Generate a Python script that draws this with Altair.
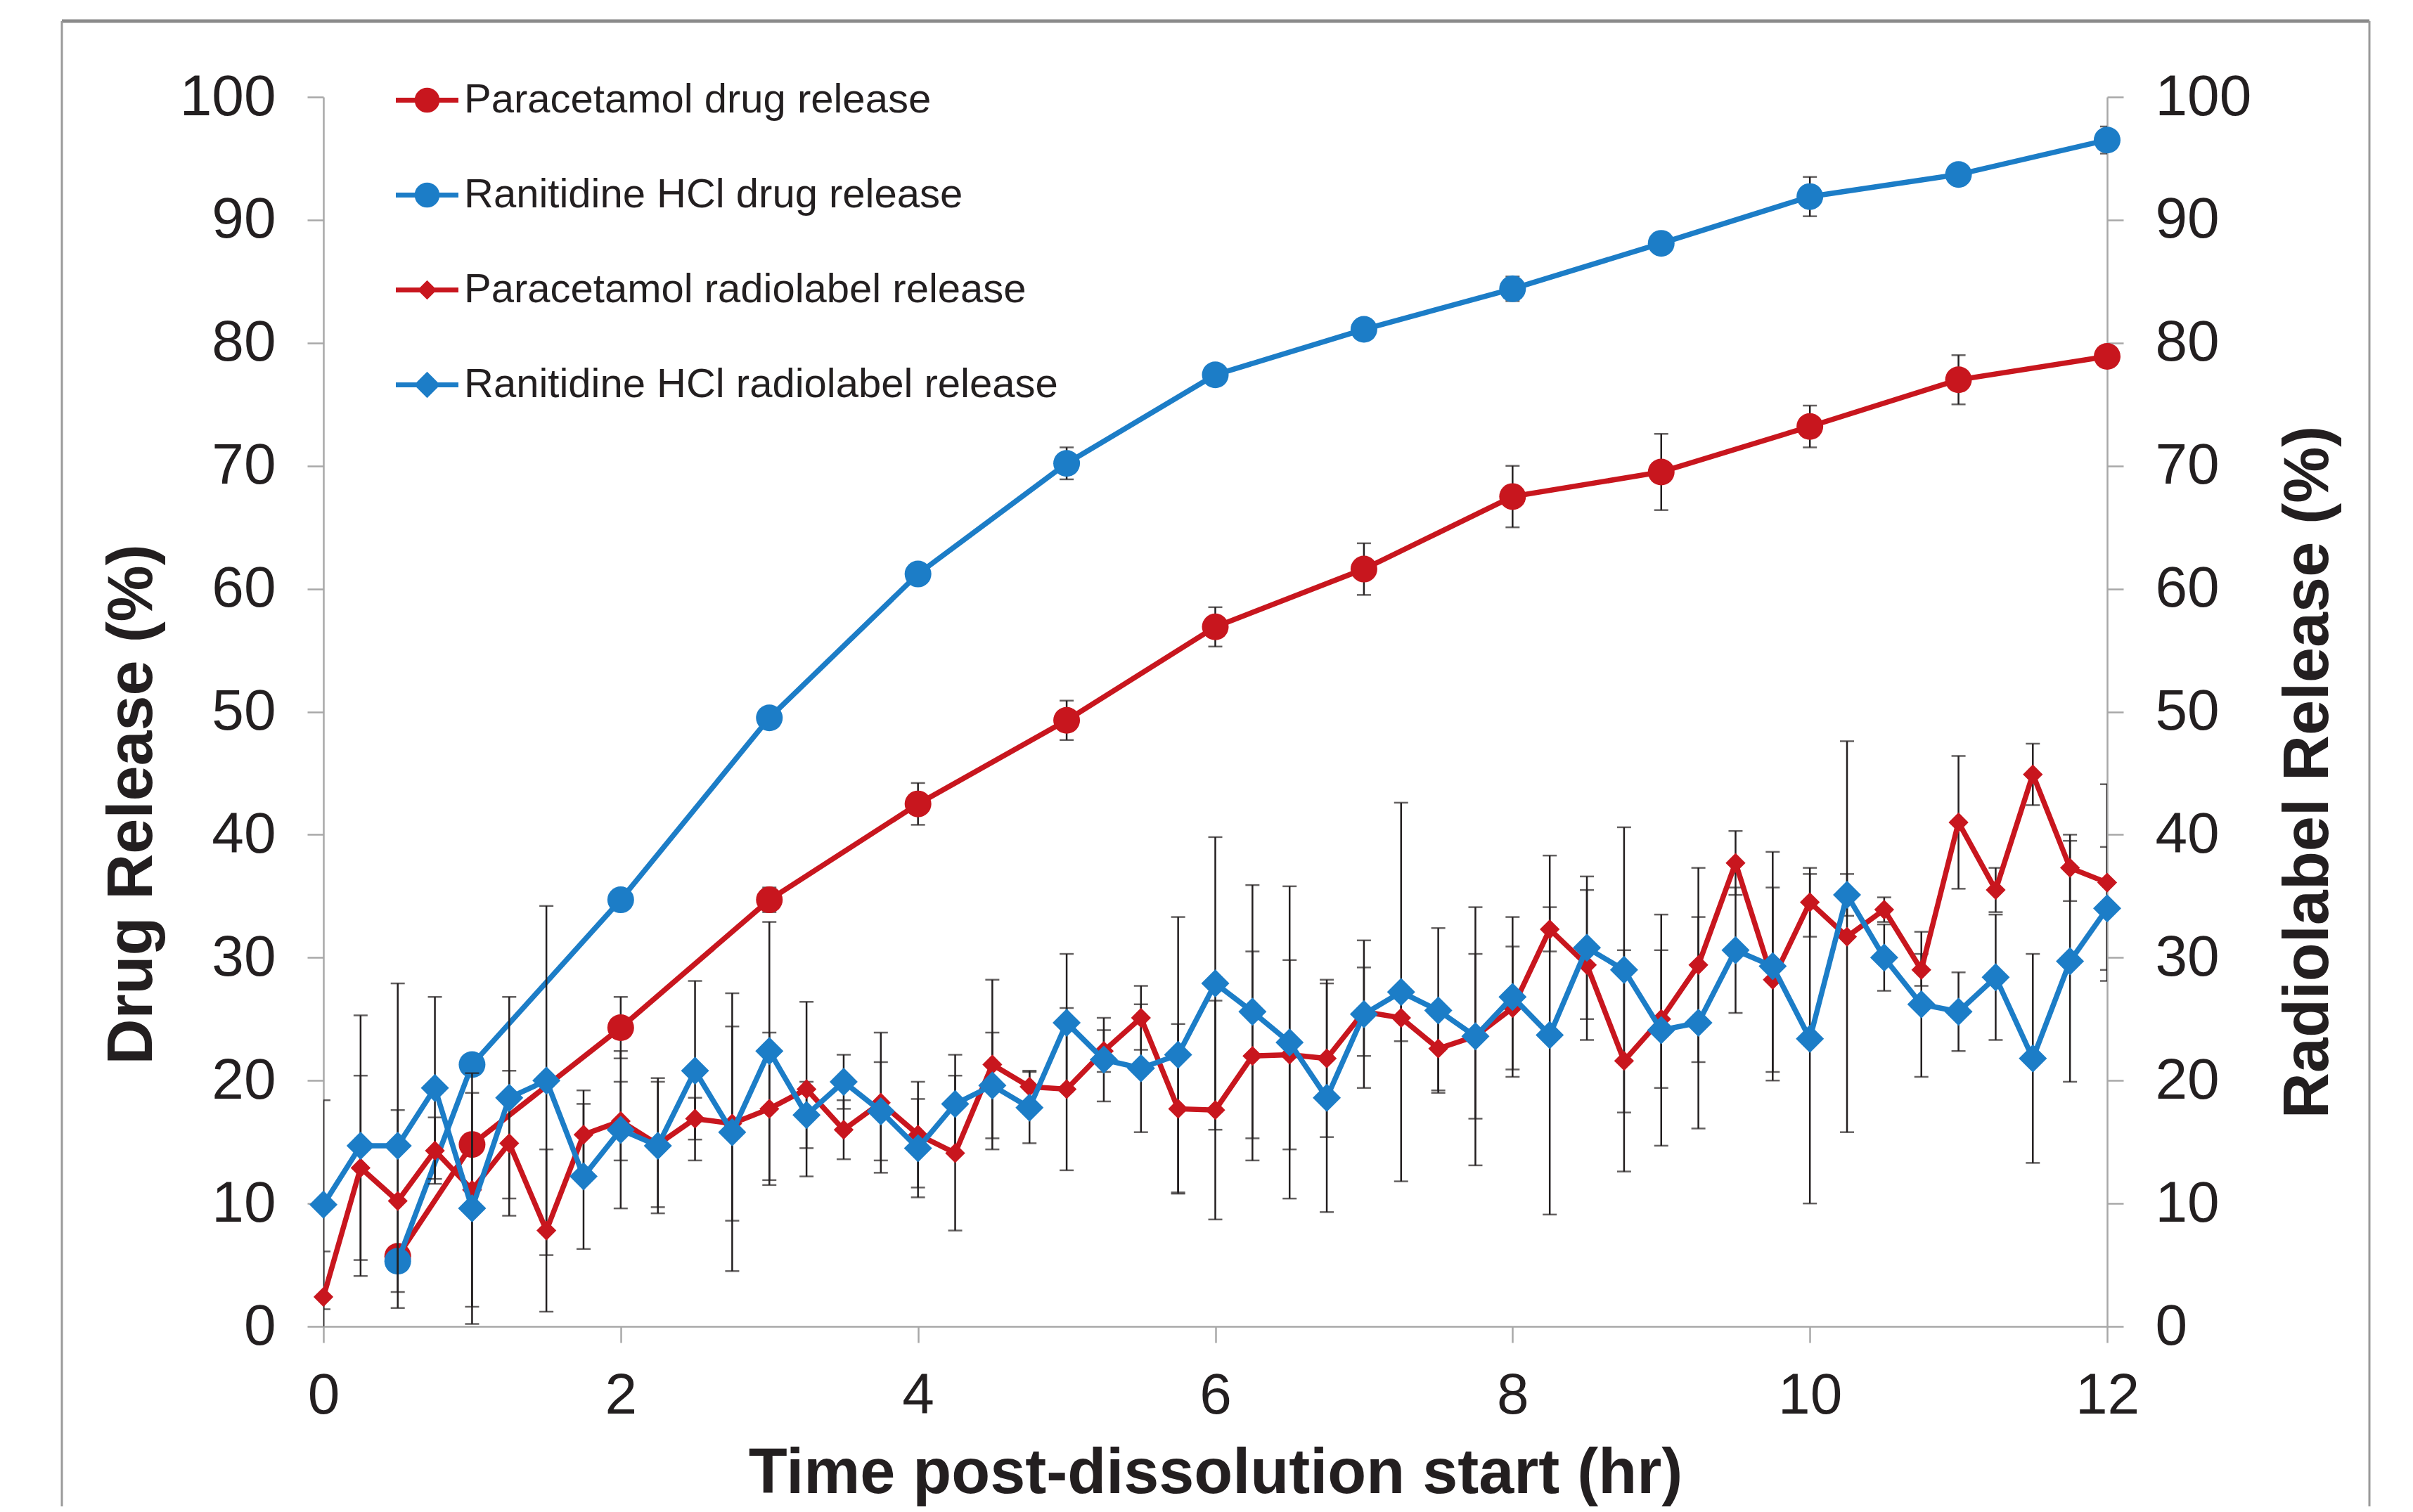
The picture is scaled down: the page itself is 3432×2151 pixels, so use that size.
import altair as alt
import pandas as pd

# ---------------- data ----------------
x_ticks = [0, 2, 4, 6, 8, 10, 12]
y_ticks = [0, 10, 20, 30, 40, 50, 60, 70, 80, 90, 100]

series_names = [
    "Paracetamol drug release",
    "Ranitidine HCl drug release",
    "Paracetamol radiolabel release",
    "Ranitidine HCl radiolabel release",
]

time_drug = [0.5, 1, 2, 3, 4, 5, 6, 7, 8, 9, 10, 11, 12]
para_drug = [5.7, 14.8, 24.3, 34.7, 42.5, 49.3, 56.9, 61.6, 67.5, 69.5, 73.2, 77.0, 78.9]
para_drug_sd = [0, 0, 2.5, 1.0, 1.7, 1.6, 1.6, 2.1, 2.5, 3.1, 1.7, 2.0, 0]
ran_drug = [5.3, 21.3, 34.7, 49.5, 61.2, 70.2, 77.4, 81.1, 84.4, 88.1, 91.9, 93.7, 96.5]
ran_drug_sd = [0, 0, 0, 0, 0, 1.3, 0, 0, 1.0, 0, 1.6, 0, 1.1]

time_radio = [0, 0.25, 0.5, 0.75, 1, 1.25, 1.5, 1.75, 2, 2.25, 2.5, 2.75,
              3, 3.25, 3.5, 3.75, 4, 4.25, 4.5, 4.75, 5, 5.25, 5.5, 5.75,
              6, 6.25, 6.5, 6.75, 7, 7.25, 7.5, 7.75, 8, 8.25, 8.5, 8.75,
              9, 9.25, 9.5, 9.75, 10, 10.25, 10.5, 10.75, 11, 11.25, 11.5, 11.75, 12]
para_radio = [2.4, 12.9, 10.2, 14.3, 11.1, 14.9, 7.8, 15.6, 16.7, 14.8, 16.9, 16.5,
              17.7, 19.3, 16.0, 18.2, 15.6, 14.1, 21.3, 19.5, 19.3, 22.4, 25.1, 17.7,
              17.6, 22.0, 22.1, 21.8, 25.6, 25.1, 22.6, 23.6, 25.9, 32.3, 29.4, 21.6,
              25.0, 29.4, 37.7, 28.2, 34.5, 31.7, 33.9, 29.0, 41.0, 35.5, 44.9, 37.3, 36.1]
para_radio_sd = [3.7, 7.5, 7.4, 2.7, 9.5, 5.9, 6.6, 3.6, 3.2, 5.1, 1.7, 7.9,
                 6.2, 7.1, 2.4, 5.7, 4.3, 6.3, 6.9, 1.3, 6.6, 1.7, 2.6, 6.9,
                 8.9, 8.5, 7.7, 6.4, 3.6, 1.9, 3.4, 6.7, 5.0, 1.8, 6.1, 9.0,
                 5.6, 7.9, 2.6, 7.5, 2.8, 15.9, 1.0, 1.3, 5.4, 1.8, 2.5, 2.7, 8.0]
ran_radio = [9.9, 14.7, 14.7, 19.4, 9.6, 18.6, 20.0, 12.2, 16.0, 14.7, 20.8, 15.8,
             22.4, 17.2, 19.9, 17.5, 14.5, 18.1, 19.6, 17.8, 24.7, 21.7, 21.0, 22.1,
             27.9, 25.6, 23.1, 18.6, 25.4, 27.2, 25.7, 23.6, 26.8, 23.7, 30.8, 29.0,
             24.1, 24.7, 30.6, 29.3, 23.4, 35.1, 30.0, 26.2, 25.6, 28.4, 21.8, 29.7, 34.0]
ran_radio_sd = [8.5, 10.6, 13.2, 7.4, 9.4, 8.2, 14.2, 5.9, 6.4, 5.5, 7.3, 11.3,
                10.5, 2.7, 2.2, 4.0, 4.0, 4.0, 4.3, 2.9, 5.6, 3.4, 5.2, 11.2,
                11.9, 10.3, 12.7, 9.3, 6.0, 15.4, 6.7, 10.5, 6.5, 14.6, 5.8, 11.6,
                9.4, 8.6, 5.1, 9.3, 13.4, 1.7, 2.7, 5.9, 3.2, 5.1, 8.5, 9.8, 5.0]

# ---------------- styling ----------------
RED = "#C8161E"
BLUE = "#1C7DC7"
INK = "#231F20"
AXIS_GREY = "#A8A8A8"
FONT = "Liberation Sans"

W, H = 2537, 1749


def frame(name, t, v, sd):
    df = pd.DataFrame({"series": name, "t": t, "v": v, "sd": sd})
    df["lo"] = df["v"] - df["sd"]
    df["hi"] = df["v"] + df["sd"]
    return df


d_pd = frame(series_names[0], time_drug, para_drug, para_drug_sd)
d_rd = frame(series_names[1], time_drug, ran_drug, ran_drug_sd)
d_pr = frame(series_names[2], time_radio, para_radio, para_radio_sd)
d_rr = frame(series_names[3], time_radio, ran_radio, ran_radio_sd)
all_df = pd.concat([d_pd, d_rd, d_pr, d_rr], ignore_index=True)

xscale = alt.Scale(domain=[0, 12], nice=False, zero=False)
yscale_l = alt.Scale(domain=[0, 100], nice=False)
yscale_r = alt.Scale(domain=[0, 100], nice=False)

xaxis = alt.Axis(values=x_ticks, title="Time post-dissolution start (hr)",
                 labelPadding=35, titlePadding=26, labelFlush=False)
yaxis_l = alt.Axis(orient="left", values=y_ticks, title="Drug Release (%)",
                   labelPadding=45, titlePadding=26, labelFlush=False,
                   titleY=1006)
yaxis_r = alt.Axis(orient="right", values=y_ticks, title="Radiolabel Release (%)",
                   labelPadding=45, titlePadding=42, labelFlush=False,
                   titleAngle=-90, titleBaseline="top", titleY=960)

X = alt.X("t:Q", scale=xscale, axis=xaxis)


def err(df, yscale, yaxis):
    return alt.Chart(df[df["sd"] > 0]).mark_errorbar(
        ticks=True, size=20, thickness=2.5, color=INK, clip=True
    ).encode(x=X, y=alt.Y("lo:Q", scale=yscale, axis=yaxis), y2="hi:Q")


def line(df, color, yscale, yaxis):
    return alt.Chart(df).mark_line(color=color, strokeWidth=7.5).encode(
        x=X, y=alt.Y("v:Q", scale=yscale, axis=yaxis))


def pts(df, color, shape, size, yscale, yaxis):
    return alt.Chart(df).mark_point(filled=True, shape=shape, size=size,
                                    color=color, opacity=1, strokeWidth=0).encode(
        x=X, y=alt.Y("v:Q", scale=yscale, axis=yaxis))


# decorative frame around the chart area (pixel values, not data)
box = pd.DataFrame({"k": [0]})
frame_top = alt.Chart(box).mark_rule(color="#8A8A8A", strokeWidth=5).encode(
    x=alt.value(-372), x2=alt.value(2910), y=alt.value(-108))
frame_left = alt.Chart(box).mark_rule(color="#9A9A9A", strokeWidth=3).encode(
    x=alt.value(-372), y=alt.value(-108), y2=alt.value(2040))
frame_right = alt.Chart(box).mark_rule(color="#9A9A9A", strokeWidth=3).encode(
    x=alt.value(2910), y=alt.value(-108), y2=alt.value(2040))

left = alt.layer(
    frame_top, frame_left, frame_right,
    err(d_pd, yscale_l, yaxis_l),
    err(d_rd, yscale_l, yaxis_l),
    line(d_pd, RED, yscale_l, yaxis_l),
    pts(d_pd, RED, "circle", 1444, yscale_l, yaxis_l),
    line(d_rd, BLUE, yscale_l, yaxis_l),
    pts(d_rd, BLUE, "circle", 1444, yscale_l, yaxis_l),
)

# legend symbols: line with marker
P_CIRCLE = ("M-1,-0.08L1,-0.08L1,0.08L-1,0.08Z "
            "M0.4,0A0.4,0.4,0,1,1,-0.4,0A0.4,0.4,0,1,1,0.4,0Z")
P_DIA_S = "M-1,-0.08L1,-0.08L1,0.08L-1,0.08Z M-0.31,0L0,-0.31L0.31,0L0,0.31Z"
P_DIA_L = "M-1,-0.08L1,-0.08L1,0.08L-1,0.08Z M-0.42,0L0,-0.42L0.42,0L0,0.42Z"

leg = alt.Legend(orient="none", legendX=103, legendY=-40, title=None,
                 direction="vertical", symbolSize=7921, symbolStrokeWidth=0,
                 symbolOpacity=1, labelFont=FONT, labelFontSize=58,
                 labelColor=INK, labelOffset=8, rowPadding=61, padding=0,
                 labelLimit=2000)

legend_layer = alt.Chart(all_df).transform_filter(alt.datum.v < -1000).mark_point(
    filled=True, size=10).encode(
    x=X, y=alt.Y("v:Q", scale=yscale_r, axis=yaxis_r),
    color=alt.Color("series:N", scale=alt.Scale(domain=series_names,
                                               range=[RED, BLUE, RED, BLUE]),
                    legend=leg),
    shape=alt.Shape("series:N", scale=alt.Scale(domain=series_names,
                                               range=[P_CIRCLE, P_CIRCLE, P_DIA_S, P_DIA_L]),
                    legend=leg),
)

right = alt.layer(
    err(d_pr, yscale_r, yaxis_r),
    err(d_rr, yscale_r, yaxis_r),
    line(d_pr, RED, yscale_r, yaxis_r),
    pts(d_pr, RED, "diamond", 800, yscale_r, yaxis_r),
    line(d_rr, BLUE, yscale_r, yaxis_r),
    pts(d_rr, BLUE, "diamond", 1600, yscale_r, yaxis_r),
    legend_layer,
)

chart = alt.layer(left, right).resolve_scale(y="independent").properties(
    width=W, height=H,
    autosize=alt.AutoSizeParams(type="none"),
    padding={"left": 452, "top": 130, "right": 427, "bottom": 256},
    background="white",
).configure_view(stroke=None).configure_axis(
    domainColor=AXIS_GREY, domainWidth=2.5, tickColor=AXIS_GREY, tickWidth=2.5,
    tickSize=23, grid=False, labelFont=FONT, labelFontSize=82, labelColor=INK,
    titleFont=FONT, titleFontSize=90, titleFontWeight="bold", titleColor=INK,
    labelOverlap=False,
)

chart.save("out.html", embed_options={"renderer": "svg", "actions": False})
